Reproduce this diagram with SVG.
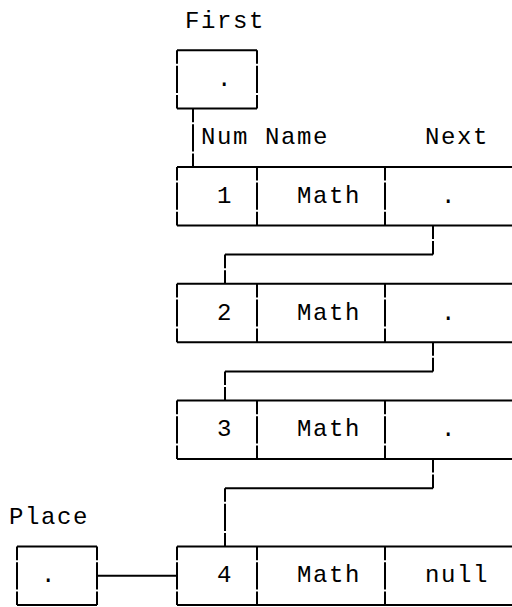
<svg xmlns="http://www.w3.org/2000/svg" width="512" height="607" viewBox="0 0 512 607">
<style>
.h{stroke:#000;stroke-width:2;fill:none}
.v{stroke:#000;stroke-width:2;fill:none;stroke-dasharray:27.2 2;stroke-dashoffset:13.6}
text{font-family:"Liberation Mono","Courier New",monospace;font-size:24px;letter-spacing:1.6px;fill:#000}
</style>
<rect width="512" height="607" fill="#fff"/>
<g id="first">
<text x="185" y="27.5">First</text>
<path class="h" d="M177 50.2H257M177 108.6H257"/>
<path class="v" d="M177 50.2V108.6M257 50.2V108.6"/>
<text x="217" y="85.9">.</text>
</g>
<g id="header">
<text x="201" y="144.3">Num</text>
<text x="265" y="144.3">Name</text>
<text x="425" y="144.3">Next</text>
</g>
<g id="node1">
<path class="h" d="M177 167H512M177 225.4H512"/>
<path class="v" d="M177 167V225.4M257 167V225.4M385 167V225.4"/>
<text x="217" y="202.7">1</text>
<text x="297" y="202.7">Math</text>
<text x="441" y="202.7">.</text>
</g>
<g id="node2">
<path class="h" d="M177 283.8H512M177 342.2H512"/>
<path class="v" d="M177 283.8V342.2M257 283.8V342.2M385 283.8V342.2"/>
<text x="217" y="319.5">2</text>
<text x="297" y="319.5">Math</text>
<text x="441" y="319.5">.</text>
</g>
<g id="node3">
<path class="h" d="M177 400.6H512M177 459H512"/>
<path class="v" d="M177 400.6V459M257 400.6V459M385 400.6V459"/>
<text x="217" y="436.3">3</text>
<text x="297" y="436.3">Math</text>
<text x="441" y="436.3">.</text>
</g>
<g id="node4">
<path class="h" d="M177 546.6H512M177 605H512"/>
<path class="v" d="M177 546.6V605M257 546.6V605M385 546.6V605"/>
<text x="217" y="582.3">4</text>
<text x="297" y="582.3">Math</text>
<text x="425" y="582.3">null</text>
</g>
<g id="place">
<text x="9" y="523.9">Place</text>
<path class="h" d="M17 546.6H97M17 605H97"/>
<path class="v" d="M17 546.6V605M97 546.6V605"/>
<text x="41" y="582.3">.</text>
</g>
<g id="connectors">
<path class="v" d="M193 108.6V167"/>
<path class="v" d="M433 225.4V254.6"/>
<path class="h" d="M433 254.6H225"/>
<path class="v" d="M225 254.6V283.8"/>
<path class="v" d="M433 342.2V371.4"/>
<path class="h" d="M433 371.4H225"/>
<path class="v" d="M225 371.4V400.6"/>
<path class="v" d="M433 459V488.2"/>
<path class="h" d="M433 488.2H225"/>
<path class="v" d="M225 488.2V546.6"/>
<path class="h" d="M97 575.8H177"/>
</g>
</svg>
